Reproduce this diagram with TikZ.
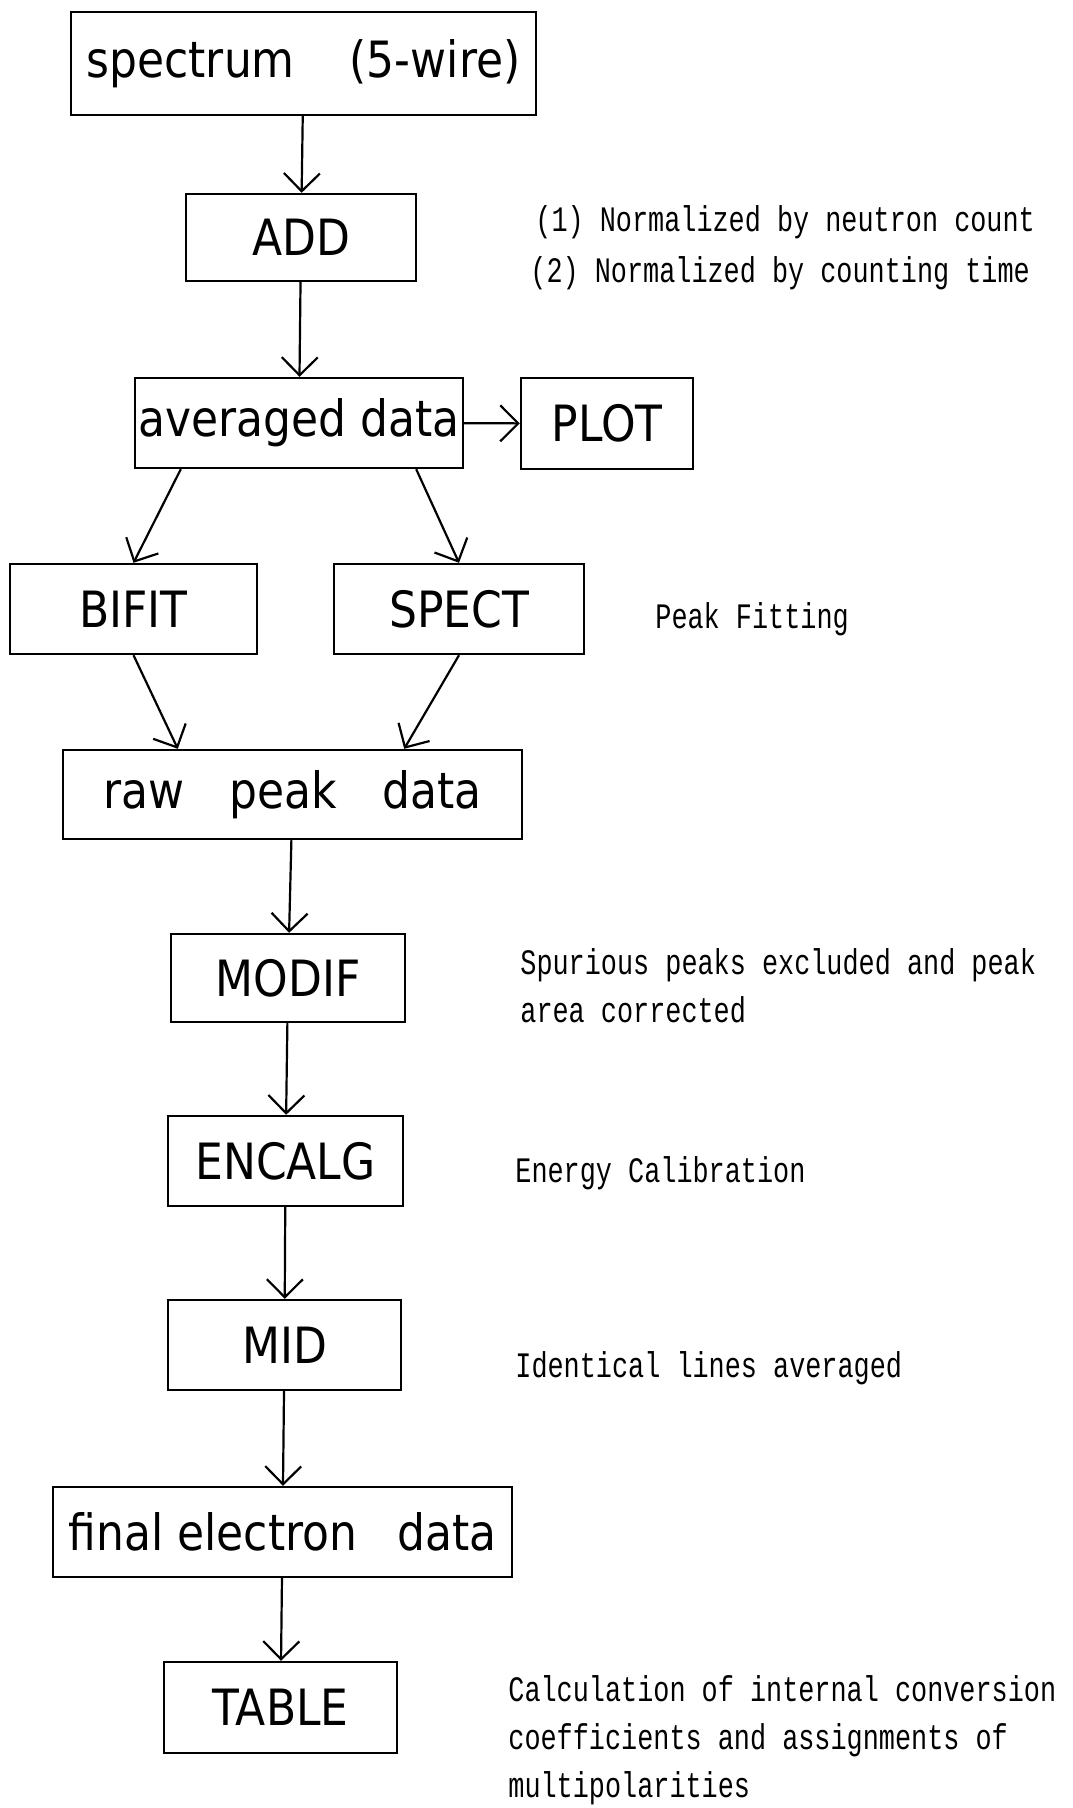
\documentclass[tikz,border=0pt]{standalone}
\usepackage{fontspec}
\setmainfont{DejaVu Sans}
\newfontfamily\boxfont[FakeStretch=0.88]{DejaVu Sans}
\newfontfamily\notefont[FakeStretch=0.75]{Liberation Mono}
\usetikzlibrary{arrows.meta}

\begin{document}
\begin{tikzpicture}[
  x=0.5pt,y=-0.5pt,
  box/.style={draw,line width=1.2pt,inner sep=0pt,font=\boxfont\fontsize{25}{28}\selectfont},
  note/.style={anchor=west,align=left,inner sep=0pt,font=\notefont\fontsize{17.9}{24}\selectfont},
  arr/.style={-{Straight Barb[length=9pt,width=18pt]},line width=1.1pt}
]
\useasboundingbox (0,0) rectangle (1072,1808);
% main chain
\node[box,minimum width=232.5pt,minimum height=51.5pt] (spec) at (303.5,63.5) {spectrum\hspace{1.1em}(5-wire)};
\node[box,minimum width=115pt,minimum height=43.5pt] (add) at (301,237.5) {ADD};
\node[box,minimum width=164pt,minimum height=45pt] (avg) at (299,423) {averaged data};
\node[box,minimum width=86pt,minimum height=45.5pt] (plot) at (607,423.5) {PLOT};
\node[box,minimum width=123.5pt,minimum height=45pt] (bifit) at (133.5,609) {BIFIT};
\node[box,minimum width=125pt,minimum height=45pt] (spect) at (459,609) {SPECT};
\node[box,minimum width=229.5pt,minimum height=44.5pt] (raw) at (292.5,794.5) {raw\hspace{0.9em}peak\hspace{0.9em}data};
\node[box,minimum width=117pt,minimum height=44pt] (modif) at (288,978) {MODIF};
\node[box,minimum width=117.5pt,minimum height=45pt] (encalg) at (285.5,1161) {ENCALG};
\node[box,minimum width=116.5pt,minimum height=45pt] (mid) at (284.5,1345) {MID};
\node[box,minimum width=229.5pt,minimum height=45pt] (final) at (282.5,1532) {final electron\hspace{0.8em}data};
\node[box,minimum width=116.5pt,minimum height=45.5pt] (table) at (280.5,1707.5) {TABLE};
% notes
\node[note] (normA) at (535,222) {(1) Normalized by neutron count};
\node[note] (normB) at (530,273) {(2) Normalized by counting time};
\node[note] (fitnote) at (655,619) {Peak Fitting};
\node[note] (modnote) at (520,986) {Spurious peaks excluded and peak\\area corrected};
\node[note] (calnote) at (515,1173) {Energy Calibration};
\node[note] (midnote) at (515,1368) {Identical lines averaged};
\node[note] (tabnote) at (508,1740) {Calculation of internal conversion\\coefficients and assignments of\\multipolarities};
% arrows
\draw[arr] (spec) -- (add);
\draw[arr] (add) -- (avg);
\draw[arr] (avg) -- (plot);
\draw[arr] ([xshift=23.5pt]avg.south west) -- (bifit.north);
\draw[arr] ([xshift=-24pt]avg.south east) -- (spect.north);
\draw[arr] (bifit.south) -- ([xshift=58pt]raw.north west);
\draw[arr] (spect.south) -- ([xshift=-59.5pt]raw.north east);
\draw[arr] (raw) -- (modif);
\draw[arr] (modif) -- (encalg);
\draw[arr] (encalg) -- (mid);
\draw[arr] (mid) -- (final);
\draw[arr] (final) -- (table);
\end{tikzpicture}
\end{document}
